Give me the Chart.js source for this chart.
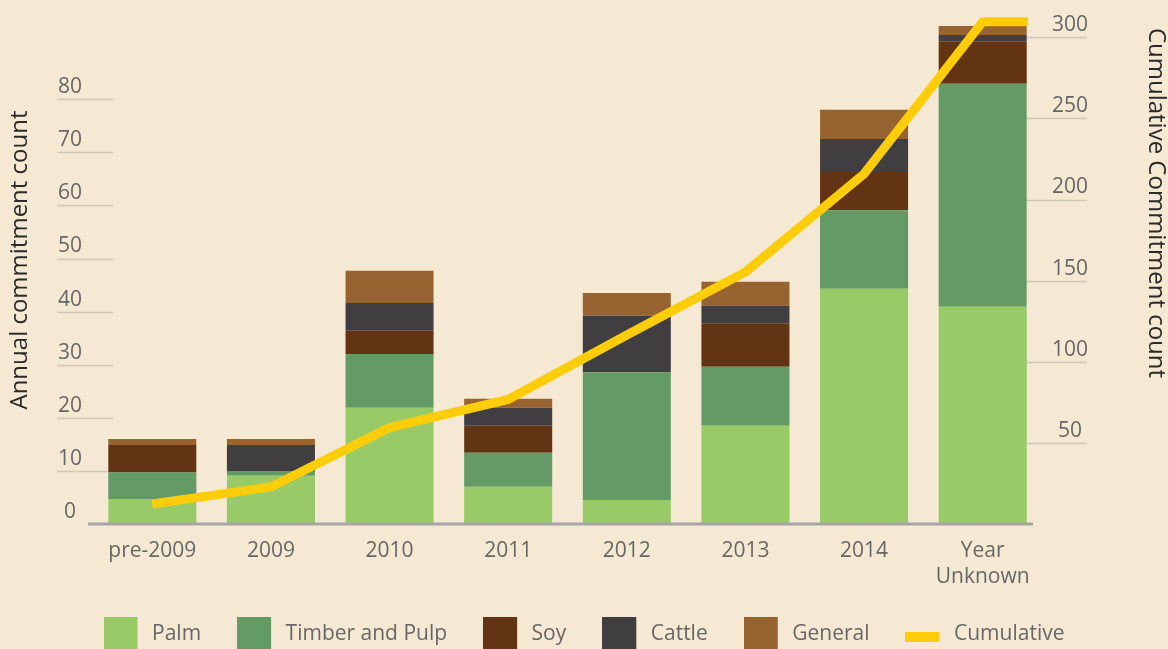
<!DOCTYPE html>
<html lang="en">
<head>
<meta charset="UTF-8">
<title>Commitments</title>
<script src="https://cdn.jsdelivr.net/npm/chart.js@4.4.1/dist/chart.umd.min.js"></script>
<style>
    html, body { margin: 0; padding: 0; background: #f5e9d3; }
    #wrap { width: 1168px; height: 649px; }
</style>
</head>
<body>
<div id="wrap"><canvas id="commitChart" width="1168" height="649"></canvas></div>
<script>
// Dados
const categories = ['pre-2009', '2009', '2010', '2011', '2012', '2013', '2014', ['Year', 'Unknown']];
const palm    = [4.7, 9.1, 21.9, 7.0, 4.5, 18.5, 44.3, 40.9];
const timber  = [5.0, 0.9, 10.1, 6.4, 24.1, 11.1, 14.8, 42.0];
const soy     = [5.2, 0, 4.4, 5.1, 0, 8.1, 7.2, 8.0];
const cattle  = [0, 4.9, 5.2, 3.4, 10.6, 3.4, 6.2, 1.2];
const general = [1.1, 1.1, 6.1, 1.7, 4.3, 4.5, 5.5, 1.7];

// linha acumulada: posição no eixo das categorias (último ponto = trecho plano no fim)
const cumulativePos = [0, 1, 2, 3, 4, 5, 6, 7, 7.38];
const cumulative    = [12.3, 22.8, 59.4, 76.8, 116.5, 155.3, 215.8, 309.6, 309.6];

const leftTicks  = [0, 10, 20, 30, 40, 50, 60, 70, 80];
const rightTicks = [50, 100, 150, 200, 250, 300];

const FONT = "'Open Sans', 'DejaVu Sans', sans-serif";
const TEXT_COLOR = '#676767';

function legendIcon(color, isLine) {
    const c = document.createElement('canvas');
    c.width = 38;
    c.height = 34;
    const g = c.getContext('2d');
    g.fillStyle = color;
    if (isLine) {
        g.fillRect(0, 15, 34, 10);
    } else {
        g.fillRect(0, 0, 34, 34);
    }
    return c;
}

// grades curtas nas margens, linha de base + títulos dos eixos
const extras = {
    id: 'extras',
    beforeDatasetsDraw(chart) {
        const { ctx, chartArea, scales } = chart;
        ctx.save();
        ctx.strokeStyle = '#cfc7b9';
        ctx.lineWidth = 1.3;
        leftTicks.slice(1).forEach(v => {
            const y = Math.round(scales.y.getPixelForValue(v)) + 0.5;
            ctx.beginPath();
            ctx.moveTo(chartArea.left - 36, y);
            ctx.lineTo(chartArea.left + 20, y);
            ctx.stroke();
        });
        rightTicks.forEach(v => {
            const y = Math.round(scales.y1.getPixelForValue(v)) + 0.5;
            ctx.beginPath();
            ctx.moveTo(chartArea.right - 19, y);
            ctx.lineTo(chartArea.right + 45, y);
            ctx.stroke();
        });
        ctx.restore();
    },
    afterDatasetsDraw(chart) {
        const { ctx, chartArea, scales } = chart;
        const y0 = scales.y.getPixelForValue(0);
        ctx.save();
        ctx.strokeStyle = '#a6a6a6';
        ctx.lineWidth = 3;
        ctx.beginPath();
        ctx.moveTo(chartArea.left - 5, y0);
        ctx.lineTo(chartArea.right - 9, y0);
        ctx.stroke();
        ctx.restore();
    },
    afterDraw(chart) {
        const { ctx } = chart;
        ctx.save();
        ctx.fillStyle = '#2a2a2a';
        ctx.font = '24px ' + FONT;
        ctx.textAlign = 'center';
        ctx.textBaseline = 'middle';
        ctx.translate(20, 260);
        ctx.rotate(-Math.PI / 2);
        ctx.fillText('Annual commitment count', 0, 0);
        ctx.restore();

        ctx.save();
        ctx.fillStyle = '#2a2a2a';
        ctx.font = '24px ' + FONT;
        ctx.textAlign = 'center';
        ctx.textBaseline = 'middle';
        ctx.translate(1156, 203);
        ctx.rotate(Math.PI / 2);
        ctx.fillText('Cumulative Commitment count', 0, 0);
        ctx.restore();
    }
};

// sem espaço extra para o rótulo do topo
function fixVertical(s, w) {
    s.width = w;
    s.paddingTop = 0;
    s.paddingBottom = 0;
}

function desenhar() {
    const ctx = document.getElementById('commitChart').getContext('2d');

    const barSets = [
        { label: 'Palm', data: palm, color: '#98ca67' },
        { label: 'Timber and Pulp', data: timber, color: '#639a66' },
        { label: 'Soy', data: soy, color: '#633413' },
        { label: 'Cattle', data: cattle, color: '#403e41' },
        { label: 'General', data: general, color: '#976431' }
    ];

    const datasets = barSets.map(s => ({
        label: s.label,
        data: s.data,
        backgroundColor: s.color,
        borderWidth: 0,
        grouped: false,
        order: 1
    }));

    datasets.push({
        type: 'line',
        label: 'Cumulative',
        data: cumulativePos.map((x, i) => ({ x: x, y: cumulative[i] })),
        xAxisID: 'x2',
        yAxisID: 'y1',
        borderColor: '#fdcd0a',
        backgroundColor: '#fdcd0a',
        borderWidth: 9,
        borderJoinStyle: 'miter',
        pointRadius: 0,
        tension: 0,
        fill: false,
        order: 0
    });

    new Chart(ctx, {
        type: 'bar',
        data: { labels: categories, datasets: datasets },
        options: {
            responsive: false,
            animation: false,
            layout: { padding: { top: 10, left: 0, right: 0, bottom: 0 } },
            datasets: {
                bar: { barPercentage: 0.742, categoryPercentage: 1 }
            },
            plugins: {
                tooltip: { enabled: false },
                legend: {
                    position: 'bottom',
                    maxHeight: 61.5,
                    labels: {
                        usePointStyle: true,
                        pointStyleWidth: 38,
                        padding: 36,
                        color: TEXT_COLOR,
                        font: { family: FONT, size: 21 },
                        generateLabels: (chart) => chart.data.datasets.map((ds, i) => ({
                            text: ds.label,
                            datasetIndex: i,
                            fillStyle: ds.backgroundColor,
                            strokeStyle: 'transparent',
                            lineWidth: 0,
                            hidden: false,
                            fontColor: TEXT_COLOR,
                            pointStyle: legendIcon(ds.backgroundColor, ds.type === 'line')
                        }))
                    }
                }
            },
            scales: {
                x: {
                    stacked: true,
                    grid: { display: false, drawTicks: false },
                    border: { display: false },
                    ticks: {
                        color: TEXT_COLOR,
                        font: { family: FONT, size: 21, lineHeight: 1.24 },
                        padding: 14,
                        maxRotation: 0,
                        autoSkip: false
                    },
                    afterFit: (s) => { s.height = 63.5; }
                },
                x2: {
                    type: 'linear',
                    display: false,
                    offset: false,
                    min: -0.5,
                    max: 7.5
                },
                y: {
                    stacked: true,
                    position: 'left',
                    min: 0,
                    max: 96.8,
                    grid: { display: false, drawTicks: false },
                    border: { display: false },
                    afterBuildTicks: (s) => { s.ticks = leftTicks.map(v => ({ value: v })); },
                    ticks: {
                        color: TEXT_COLOR,
                        font: { family: FONT, size: 21 },
                        crossAlign: 'center',
                        padding: 11,
                        labelOffset: -12
                    },
                    afterFit: (s) => fixVertical(s, 93)
                },
                y1: {
                    position: 'right',
                    min: 0,
                    max: 316.8,
                    grid: { display: false, drawTicks: false },
                    border: { display: false },
                    afterBuildTicks: (s) => { s.ticks = rightTicks.map(v => ({ value: v })); },
                    ticks: {
                        color: TEXT_COLOR,
                        font: { family: FONT, size: 21 },
                        crossAlign: 'center',
                        padding: 10,
                        labelOffset: -12
                    },
                    afterFit: (s) => fixVertical(s, 126)
                }
            }
        },
        plugins: [extras]
    });
}

document.fonts.load("21px 'Open Sans'").then(desenhar, desenhar);
</script>
</body>
</html>
